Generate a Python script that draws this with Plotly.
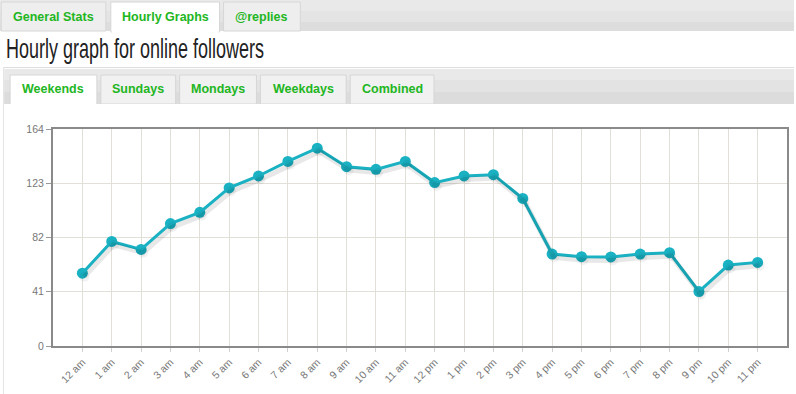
import plotly.graph_objects as go

hours = ["12 am", "1 am", "2 am", "3 am", "4 am", "5 am", "6 am", "7 am", "8 am",
         "9 am", "10 am", "11 am", "12 pm", "1 pm", "2 pm", "3 pm", "4 pm", "5 pm",
         "6 pm", "7 pm", "8 pm", "9 pm", "10 pm", "11 pm"]
followers = [55, 79, 73, 92.5, 101, 119.5, 128.5, 139.5, 149.5, 135.5, 133.5, 139.5,
             123.5, 128.5, 129.5, 111.5, 69.5, 67.5, 67.3, 69.5, 70.5, 41.2, 61.2, 63.2]
y_ticks = [0, 41, 82, 123, 164]
top_tabs = ["General Stats", "Hourly Graphs", "@replies"]
sub_tabs = ["Weekends", "Sundays", "Mondays", "Weekdays", "Combined"]
title_text = "Hourly graph for online followers"

W, H = 796, 394
L, R, T, B = 53, 789, 129, 346


def px(x):
    return (x - L) / (R - L)


def py(y):
    return (B - y) / (B - T)


fig = go.Figure()

# soft shadow of the line (same data on slightly offset overlay axes)
fig.add_trace(go.Scatter(x=hours, y=followers, xaxis="x2", yaxis="y2", mode="lines+markers",
                         line=dict(color="rgba(0,0,0,0.09)", width=5),
                         marker=dict(size=10, color="rgba(0,0,0,0.05)"),
                         hoverinfo="skip", showlegend=False))
fig.add_trace(go.Scatter(x=hours, y=followers, mode="lines+markers",
                         line=dict(color="#1ab2c3", width=3),
                         marker=dict(size=11, color="#1ab2c3"),
                         showlegend=False))

shapes = []
annotations = []


def rect(x0, y0, x1, y1, fill, line=None, lw=1):
    shapes.append(dict(type="rect", xref="paper", yref="paper",
                       x0=px(x0), x1=px(x1), y0=py(y1), y1=py(y0),
                       fillcolor=fill, line=dict(color=line or fill, width=lw if line else 0),
                       layer="below"))


def hline(x0, x1, y, color, lw=1):
    shapes.append(dict(type="line", xref="paper", yref="paper",
                       x0=px(x0), x1=px(x1), y0=py(y), y1=py(y),
                       line=dict(color=color, width=lw), layer="below"))


def vline(x, y0, y1, color, lw=1):
    shapes.append(dict(type="line", xref="paper", yref="paper",
                       x0=px(x), x1=px(x), y0=py(y0), y1=py(y1),
                       line=dict(color=color, width=lw), layer="below"))


def label(text, x, y, size=13, color="#22b622", family="Liberation Sans, Arial, sans-serif",
          xanchor="center", bold=True):
    annotations.append(dict(text=("<b>%s</b>" % text) if bold else text, xref="paper", yref="paper",
                            x=px(x), y=py(y), xanchor=xanchor, yanchor="middle",
                            showarrow=False, font=dict(size=size, color=color, family=family)))


# top tab bar (gradient approximation)
rect(0, 0, W, 11, "#e9e9e9")
rect(0, 11, W, 22, "#e4e4e4")
rect(0, 22, W, 31, "#dddddd")
top_tab_x = [(1, 106), (111, 220), (224, 301)]
for i, (name, (a, b)) in enumerate(zip(top_tabs, top_tab_x)):
    if i == 1:
        rect(a, 2, b, 32, "#ffffff", "#d6d6d6")
    else:
        rect(a, 2, b, 31, "#eeeeee", "#d6d6d6")
    label(name, (a + b) / 2, 17.5, size=12.5)
rect(112, 30, 219, 33, "#ffffff")

# title
annotations.append(dict(text=title_text, xref="paper", yref="paper", x=px(4), y=py(49),
                        xanchor="left", yanchor="middle", showarrow=False, name="pagetitle",
                        font=dict(size=27, color="#222222",
                                  family="Liberation Sans, Arial, sans-serif")))

# panel
hline(3, W, 67.5, "#dddddd")
vline(3.5, 67, H, "#e2e2e2")
rect(4, 69, W, 80, "#e9e9e9")
rect(4, 80, W, 92, "#e3e3e3")
rect(4, 92, W, 104, "#dcdcdc")
sub_tab_x = [(10, 97), (101, 176), (180, 257), (261, 347), (351, 435)]
for i, (name, (a, b)) in enumerate(zip(sub_tabs, sub_tab_x)):
    if i == 0:
        rect(a, 75, b, 105, "#ffffff", "#d6d6d6")
    else:
        rect(a, 75, b, 104, "#f1f1f1", "#d6d6d6")
    label(name, (a + b) / 2, 89, size=12.5)
rect(4, 104, W, H, "#ffffff")
rect(11, 102, 96, 106, "#ffffff")

axis_font = dict(size=10.5, color="#777777", family="Liberation Sans, Arial, sans-serif")

fig.update_layout(
    width=W, height=H, autosize=False,
    margin=dict(l=L, r=W - R, t=T, b=H - B, pad=0),
    paper_bgcolor="#ffffff", plot_bgcolor="#fdfcf6",
    shapes=shapes, annotations=annotations,
    xaxis=dict(type="category", range=[-1, 24], showgrid=True, gridcolor="#e2dfd8", gridwidth=1,
               showline=True, linecolor="#8a8a8a", linewidth=2, mirror=True,
               ticks="outside", ticklen=4, tickcolor="#d0d0d0", tickangle=-45,
               tickfont=axis_font, zeroline=False, fixedrange=True),
    yaxis=dict(range=[0, 164], tickvals=y_ticks, showgrid=True, gridcolor="#e2dfd8", gridwidth=1,
               showline=True, linecolor="#8a8a8a", linewidth=2, mirror=True,
               ticks="outside", ticklen=5, tickcolor="#999999",
               tickfont=axis_font, zeroline=False, fixedrange=True),
    xaxis2=dict(type="category", range=[-1.07, 23.93], overlaying="x", visible=False,
                fixedrange=True),
    yaxis2=dict(range=[2.6, 166.6], overlaying="y", visible=False, fixedrange=True),
)

# condense the page title horizontally (the original uses a narrow display face)
post = """
document.body.style.margin='0';document.body.style.overflow='hidden';
var texts=document.querySelectorAll('text.annotation-text');
texts.forEach(function(t){
  if(t.textContent.indexOf('Hourly graph')===0){
    var w=t.getBBox().width; var s=258/w;
    t.style.transformBox='fill-box'; t.style.transformOrigin='left center';
    t.style.transform='scaleX('+s+')';
  }
});
"""
fig.write_html("out.html", config=dict(displayModeBar=False), post_script=post)
